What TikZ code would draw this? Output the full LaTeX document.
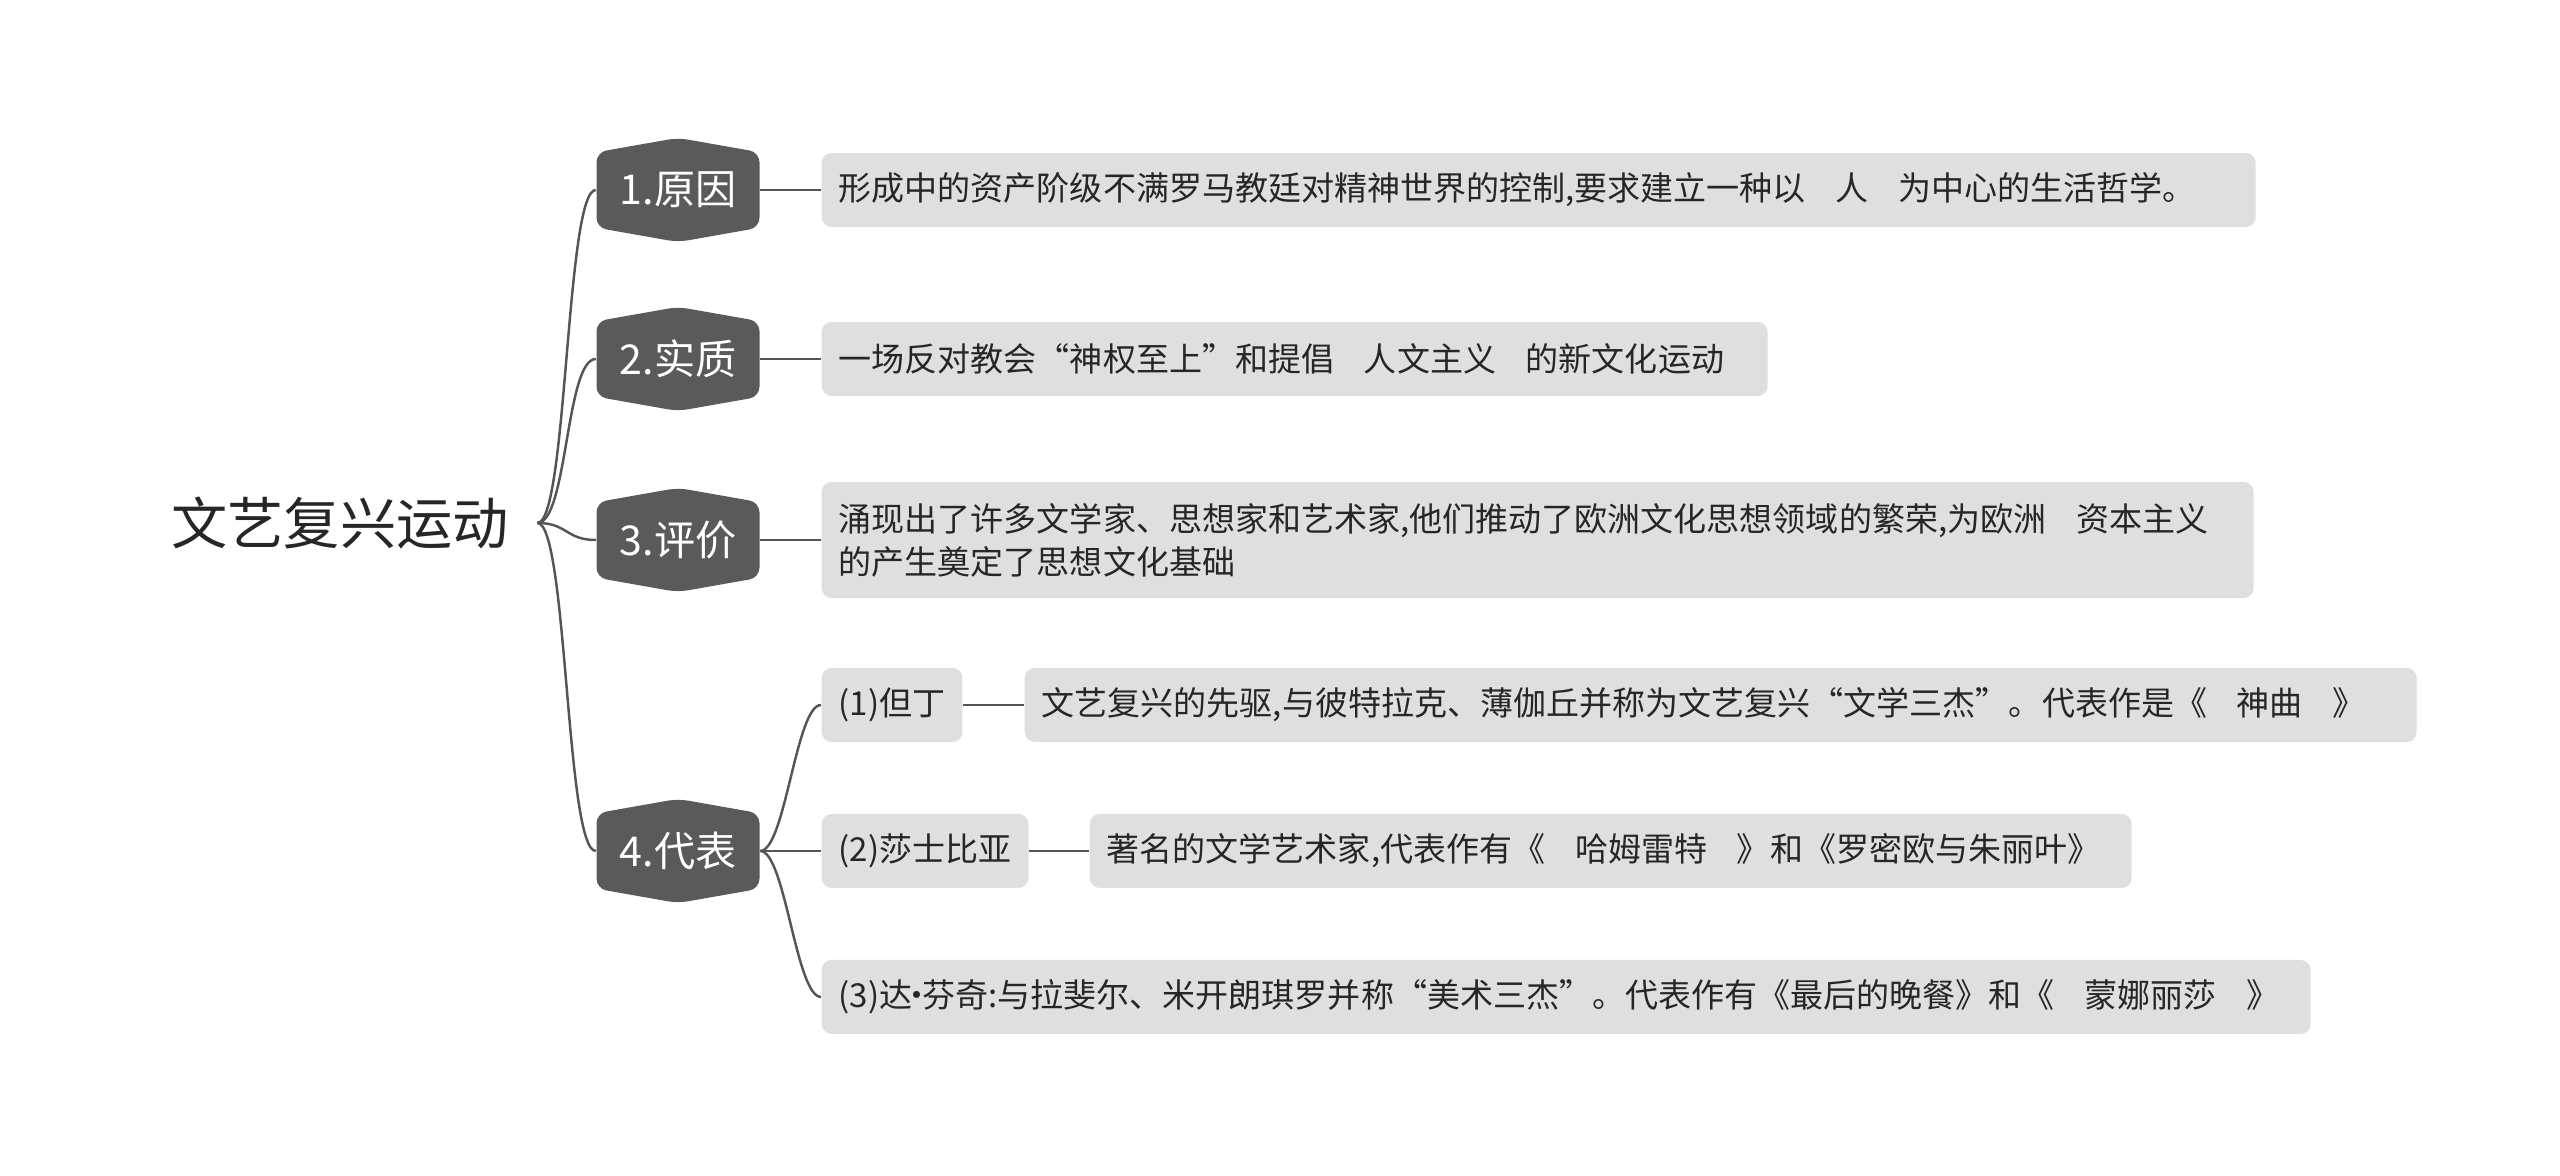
\documentclass[tikz,border=0pt]{standalone}
\usepackage{fontspec}
\setmainfont{Noto Sans CJK SC}
\usepackage{tikz}
\usetikzlibrary{shapes.symbols}
\definecolor{mapHex}{HTML}{5A5A5A}
\definecolor{mapBox}{HTML}{DFDFDF}
\definecolor{mapLine}{HTML}{555555}
\definecolor{mapText}{HTML}{262626}
\newcommand{\rootfont}{\fontsize{16pt}{19pt}\selectfont}
\newcommand{\hexfont}{\fontsize{11.7pt}{14pt}\selectfont}
\newcommand{\boxfont}{\fontsize{9.4pt}{12.2pt}\selectfont}
\newcommand{\fillgap}{\hspace{0.9em}}
\newcommand{\middot}{\makebox[0.3em][c]{·}}

\begin{document}
\begin{tikzpicture}[
  hexnode/.style={shape=signal, signal to=north and south, signal pointer angle=160,
    fill=mapHex, text=white, font=\hexfont, minimum width=1.63cm, minimum height=0.96cm,
    inner sep=0pt, rounded corners=1mm},
  box/.style={anchor=west, fill=mapBox, text=mapText, rounded corners=1mm,
    inner xsep=1.7mm, minimum height=7.4mm, align=left, font=\boxfont},
  link/.style={draw=mapLine, line width=0.7pt}
]
\useasboundingbox (0,0) rectangle (25.6,11.76);

% Root topic
\node[font=\rootfont, text=mapText, inner xsep=2.8mm] (root) at (3.40, 6.53) {文艺复兴运动};

% Main branches
\foreach \i/\y/\t in {1/9.86/1.原因, 2/8.17/2.实质, 3/6.36/3.评价, 4/3.25/4.代表} {
  \node[hexnode] (h\i) at (6.78, \y) {\t};
  \draw[link] (root.east) .. controls +(0.3,0) and +(-0.3,0) .. (h\i.west);
}

% Details of branches 1-3
\node[box, text width=14.0cm] (b1) at (8.21, 9.86)
  {形成中的资产阶级不满罗马教廷对精神世界的控制,要求建立一种以\fillgap 人\fillgap 为中心的生活哲学。};
\node[box, text width=9.12cm] (b2) at (8.21, 8.17)
  {一场反对教会“神权至上”和提倡\fillgap 人文主义\fillgap 的新文化运动};
\node[box, text width=13.98cm, minimum height=1.16cm] (b3) at (8.21, 6.36)
  {涌现出了许多文学家、思想家和艺术家,他们推动了欧洲文化思想领域的繁荣,为欧洲\fillgap 资本主义\\的产生奠定了思想文化基础};
\foreach \i in {1,2,3} \draw[link] (h\i.east) -- (b\i.west);

% Representatives
\node[box] (s1) at (8.21, 4.71) {(1)但丁};
\node[box] (s2) at (8.21, 3.25) {(2)莎士比亚};
\node[box, text width=14.55cm] (s3) at (8.21, 1.79)
  {(3)达\middot 芬奇:与拉斐尔、米开朗琪罗并称“美术三杰”。代表作有《最后的晚餐》和《\fillgap 蒙娜丽莎\fillgap 》};
\node[box, text width=13.58cm] (l1) at (10.24, 4.71)
  {文艺复兴的先驱,与彼特拉克、薄伽丘并称为文艺复兴“文学三杰”。代表作是《\fillgap 神曲\fillgap 》};
\node[box, text width=10.08cm] (l2) at (10.89, 3.25)
  {著名的文学艺术家,代表作有《\fillgap 哈姆雷特\fillgap 》和《罗密欧与朱丽叶》};

\draw[link] (h4.east) .. controls +(0.25,0) and +(-0.25,0) .. (s1.west);
\draw[link] (h4.east) -- (s2.west);
\draw[link] (h4.east) .. controls +(0.25,0) and +(-0.25,0) .. (s3.west);
\draw[link] (s1.east) -- (l1.west);
\draw[link] (s2.east) -- (l2.west);
\end{tikzpicture}
\end{document}
